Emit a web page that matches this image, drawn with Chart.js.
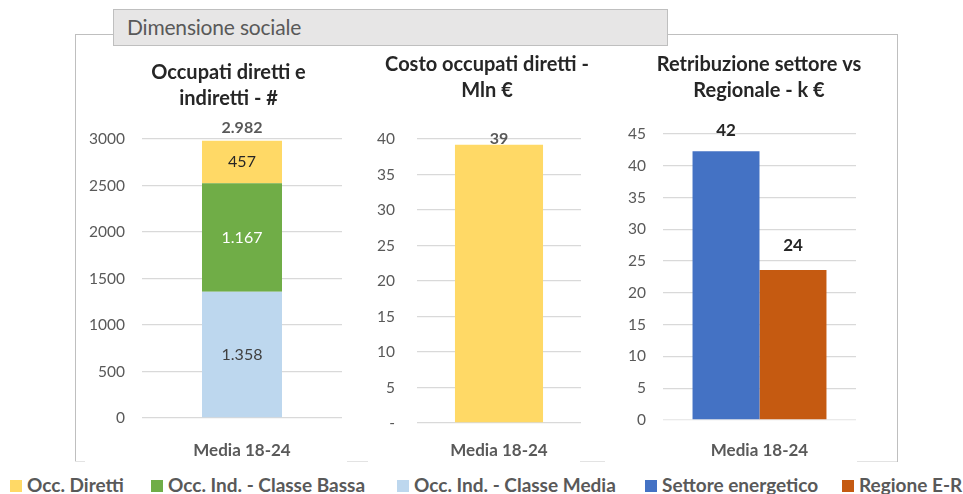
<!DOCTYPE html>
<html><head><meta charset="utf-8">
<script src="https://cdn.jsdelivr.net/npm/chart.js@4.4.1/dist/chart.umd.min.js"></script>
<style>
html,body{margin:0;padding:0;background:#fff;width:963px;height:494px;overflow:hidden;font-family:Lato,"Open Sans",sans-serif;}
.abs{position:absolute;}
#frame{left:75px;top:34px;width:823px;height:428px;border:1.5px solid #bfbfbf;border-bottom:none;box-sizing:border-box;}
.seg{height:1px;background:#e3e3e3;top:461px;}
#tbox{left:113px;top:9px;width:555px;height:37px;background:#e7e6e6;border:1.5px solid #bfbfbf;box-sizing:border-box;color:#595959;font-size:21px;line-height:33px;padding-left:13px;letter-spacing:-0.2px;}
.li{position:absolute;top:476px;display:flex;align-items:center;font-weight:700;font-size:19px;line-height:18px;color:#595959;white-space:nowrap;}
.mk{width:12px;height:12px;margin-right:5px;margin-top:2px;}
canvas{position:absolute;}
</style></head>
<body>
<div id="frame" class="abs"></div>
<div class="abs seg" style="left:75px;width:10px"></div>
<div class="abs seg" style="left:347px;width:21px"></div>
<div class="abs seg" style="left:580px;width:25px"></div>
<div class="abs seg" style="left:857px;width:40px"></div>
<div id="tbox" class="abs">Dimensione sociale</div>
<canvas id="c1" width="293" height="420" style="left:82px;top:40px"></canvas>
<canvas id="c2" width="250" height="420" style="left:362px;top:40px"></canvas>
<canvas id="c3" width="282" height="420" style="left:618px;top:40px"></canvas>
<div id="legend"></div>
<script>
// ---------- DATA ----------
const categories = ['Media 18-24'];
const occDiretti = [457];
const occIndBassa = [1167];
const occIndMedia = [1358];
const costoOccDiretti = [39.2];
const settoreEnergetico = [42.3];
const regioneER = [23.6];
const seriesNames = ['Occ. Diretti', 'Occ. Ind. - Classe Bassa', 'Occ. Ind. - Classe Media', 'Settore energetico', 'Regione E-R'];
const title1 = ['Occupati diretti e', 'indiretti - #'];
const title2 = ['Costo occupati diretti -', 'Mln €'];
const title3 = ['Retribuzione settore vs', 'Regionale - k €'];
const zeroTickLabel2 = '-';

// ---------- STYLE / LAYOUT ----------
const colors = ['#FFD966', '#70AD47', '#BDD7EE', '#4472C4', '#C55A11'];
const legendLeft = [10, 151, 397, 645, 842];
const FONT = 'Lato';
const gridColor = '#d9d9d9';
const tickColor = '#595959';

function fmt(v) {
  const s = String(Math.round(v));
  return s.replace(/\B(?=(\d{3})+(?!\d))/g, '.');
}

const barLabels = {
  id: 'barLabels',
  afterDatasetsDraw(chart, args, opts) {
    const ctx = chart.ctx;
    let topY = Infinity;
    chart.data.datasets.forEach((ds, i) => {
      const meta = chart.getDatasetMeta(i);
      const c = ds.lbl;
      meta.data.forEach((bar, j) => {
        topY = Math.min(topY, bar.y);
        if (!c) return;
        ctx.save();
        ctx.font = (c.bold ? '700 ' : '400 ') + c.size + 'px ' + FONT;
        ctx.fillStyle = c.color;
        ctx.textAlign = 'center';
        ctx.textBaseline = 'middle';
        const y = c.pos === 'center' ? (bar.y + bar.base) / 2 : bar.y - c.offset;
        ctx.fillText(fmt(ds.data[j]), bar.x, y);
        ctx.restore();
      });
    });
    if (opts && opts.total) {
      const meta0 = chart.getDatasetMeta(0);
      meta0.data.forEach((bar, j) => {
        const sum = chart.data.datasets.reduce((a, ds) => a + ds.data[j], 0);
        ctx.save();
        ctx.font = '700 ' + opts.total.size + 'px ' + FONT;
        ctx.fillStyle = opts.total.color;
        ctx.textAlign = 'center';
        ctx.textBaseline = 'middle';
        ctx.fillText(fmt(sum), bar.x, topY - opts.total.offset);
        ctx.restore();
      });
    }
  }
};

function makeChart(id, datasets, cfg) {
  return new Chart(document.getElementById(id), {
    type: 'bar',
    data: { labels: categories, datasets },
    plugins: [barLabels],
    options: {
      responsive: false,
      animation: false,
      events: [],
      layout: { padding: 0 },
      datasets: { bar: { barPercentage: 1, categoryPercentage: cfg.catPct } },
      plugins: {
        legend: { display: false },
        tooltip: { enabled: false },
        title: {
          display: true,
          text: cfg.title,
          color: '#262626',
          font: { family: FONT, size: 20, weight: '700', lineHeight: 1.275 },
          padding: { top: cfg.tTop, bottom: cfg.tBottom }
        },
        barLabels: { total: cfg.total || null }
      },
      scales: {
        x: {
          stacked: !!cfg.stacked,
          grid: { display: false },
          border: cfg.xBorder ? { display: true, color: cfg.xBorder, width: 1.5 } : { display: false },
          z: cfg.xBorder ? 1 : 0,
          ticks: { color: tickColor, padding: cfg.xPad, font: { family: FONT, size: 17, weight: '700' } },
          afterFit(s) { s.height = cfg.xH; }
        },
        y: {
          stacked: !!cfg.stacked,
          min: 0, max: cfg.max,
          grid: { color: gridColor, lineWidth: 1.3, drawTicks: false },
          border: { display: false },
          ticks: {
            stepSize: cfg.step, color: tickColor, padding: cfg.yPad,
            font: { family: FONT, size: 15.5 },
            callback: cfg.tickCb || (v => String(v))
          },
          afterFit(s) { s.width = cfg.L; }
        },
        yR: {
          position: 'right',
          display: true,
          grid: { display: false },
          border: { display: false },
          ticks: { display: false },
          afterFit(s) { s.width = cfg.R; }
        }
      }
    }
  });
}

makeChart('c1', [
  { label: seriesNames[2], data: occIndMedia, backgroundColor: colors[2], lbl: { pos: 'center', size: 16, color: '#404040' } },
  { label: seriesNames[1], data: occIndBassa, backgroundColor: colors[1], lbl: { pos: 'center', size: 16, color: '#ffffff' } },
  { label: seriesNames[0], data: occDiretti, backgroundColor: colors[0], lbl: { pos: 'center', size: 16, color: '#262626' } }
], { title: title1, catPct: 0.4, stacked: true, max: 3000, step: 500, L: 60, R: 33, yPad: 17, xH: 42, xPad: 14.8, tTop: 20.25, tBottom: 27.75,
     total: { size: 16, color: '#595959', offset: 13 } });

makeChart('c2', [
  { label: seriesNames[0], data: costoOccDiretti, backgroundColor: colors[0], lbl: { pos: 'end', size: 16, bold: true, color: '#595959', offset: 6 } }
], { title: title2, catPct: 0.537, max: 40, step: 5, L: 55, R: 31, yPad: 22, xH: 37, xPad: 9.8, tTop: 12.25, tBottom: 35.75,
     tickCb: v => (v === 0 ? zeroTickLabel2 : String(v)) });

makeChart('c3', [
  { label: seriesNames[3], data: settoreEnergetico, backgroundColor: colors[3], lbl: { pos: 'end', size: 17, bold: true, color: '#262626', offset: 21 } },
  { label: seriesNames[4], data: regioneER, backgroundColor: colors[4], lbl: { pos: 'end', size: 17, bold: true, color: '#262626', offset: 24 } }
], { title: title3, catPct: 0.694, max: 45, step: 5, L: 45, R: 44, yPad: 17, xH: 40, xPad: 12.8, tTop: 12.25, tBottom: 30.75,
     xBorder: 'rgba(255,255,255,0.45)' });

// legend
const lg = document.getElementById('legend');
seriesNames.forEach((n, i) => {
  const d = document.createElement('div');
  d.className = 'li';
  d.style.left = legendLeft[i] + 'px';
  d.innerHTML = '<span class="mk" style="background:' + colors[i] + '"></span><span></span>';
  d.lastChild.textContent = n;
  lg.appendChild(d);
});
</script>
</body></html>
